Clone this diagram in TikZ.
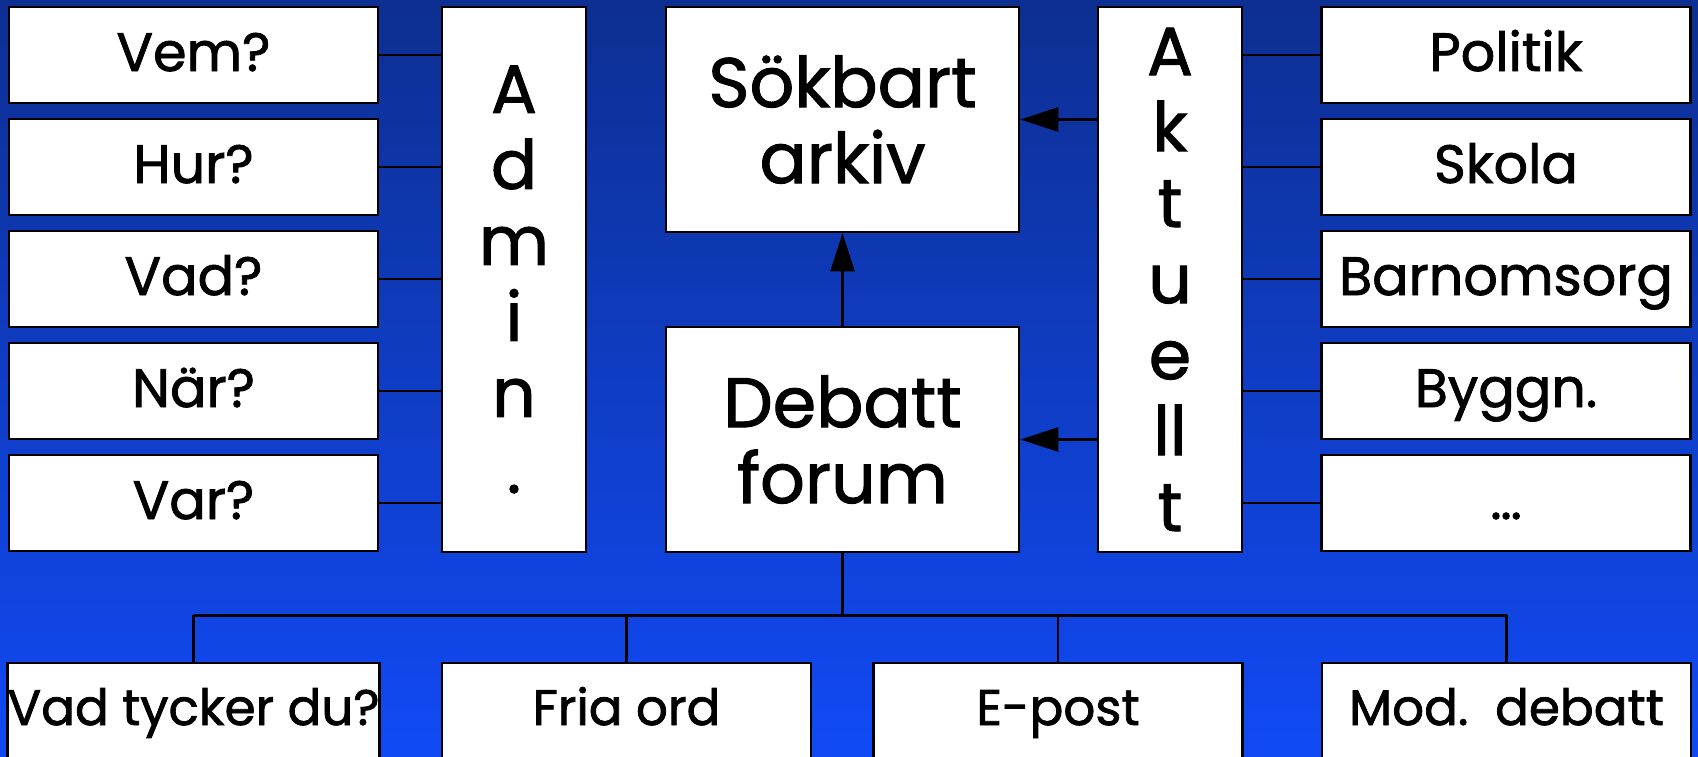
\documentclass[tikz,border=0pt]{standalone}
\usepackage{fontspec}
\setmainfont{Poppins}[FakeBold=1.5]
\usetikzlibrary{
    arrows.meta,
    calc,
    positioning
}
\definecolor{bgtop}{RGB}{13,47,145}
\definecolor{bgbot}{RGB}{17,74,245}

\begin{document}
\begin{tikzpicture}[x=0.5pt, y=-0.5pt,
    box/.style={draw=black, fill=white, line width=1.3pt, inner sep=0pt, align=center},
    smallbox/.style={box, minimum width=184.5pt, minimum height=48pt, text height=20pt, text depth=4pt, font=\fontsize{27}{30}\selectfont},
    colbox/.style={box, minimum width=72pt, minimum height=272.5pt, font=\fontsize{34}{38}\selectfont},
    bigbox/.style={box, minimum width=176.5pt, minimum height=112.5pt, font=\fontsize{35}{38}\selectfont},
    lowbox/.style={box, minimum width=184.5pt, minimum height=48.5pt, text height=18pt, text depth=4.5pt, font=\fontsize{25}{28}\selectfont},
    link/.style={draw=black, line width=1.2pt},
    pil/.style={link, -{Triangle[length=19pt, width=12pt]}}]
    \useasboundingbox (0,0) rectangle (1698,756);
    \fill[top color=bgtop, bottom color=bgbot] (0,0) rectangle (1698,756);

    % left column and Admin.
    \foreach \name/\txt [count=\i] in {vem/Vem?, hur/Hur?, vad/Vad?, nar/När?, var/Var?}
        \node[smallbox] (\name) at (193.5, {55+112*(\i-1)}) {\txt};
    \node[colbox] (admin) at (514, 279.5) {A\\d\\m\\i\\n\\.};

    % middle
    \node[bigbox] (sok) at (842.5, 119.5) {Sökbart\\arkiv};
    \node[bigbox] (deb) at (842.5, 439.5) {Debatt\\forum};

    % Aktuellt and right column
    \node[colbox] (akt) at (1170, 279.5) {A\\k\\t\\u\\e\\ll\\t};
    \foreach \name/\txt [count=\i] in {pol/Politik, sko/Skola, bar/Barnomsorg, byg/Byggn., dts/\ldots}
        \node[smallbox] (\name) at (1506, {55+112*(\i-1)}) {\txt};

    % bottom row
    \node[lowbox] (vtd) at (193.5, 711.5) {Vad tycker du?};
    \node[lowbox] (fri) at (626.5, 711.5) {Fria ord};
    \node[lowbox] (epo) at (1058, 711.5) {E-post};
    \node[lowbox] (mod) at (1506.5, 711.5) {Mod.~~debatt};

    % connectors
    \foreach \n in {vem,hur,vad,nar,var}
        \draw[link] (\n.east) -- (\n.east -| admin.west);
    \foreach \n in {pol,sko,bar,byg,dts}
        \draw[link] (\n.west) -- (\n.west -| akt.east);
    \draw[pil] (sok.east -| akt.west) -- (sok.east);
    \draw[pil] (deb.east -| akt.west) -- (deb.east);
    \draw[pil] (deb.north) -- (sok.south);

    \draw[link] (deb.south) -- ++(0,62) coordinate (bus);
    \draw[link] (vtd.north |- bus) -- (mod.north |- bus);
    \foreach \n in {vtd,fri,epo,mod}
        \draw[link] (\n.north |- bus) -- (\n.north);
\end{tikzpicture}
\end{document}
